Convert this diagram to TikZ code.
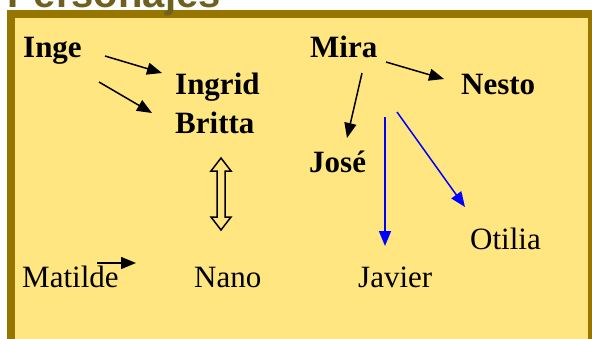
\documentclass[tikz,border=0pt]{standalone}
\usepackage{fontspec}
\setmainfont{Liberation Serif}
\newfontfamily\titlefont{Liberation Sans}
\usetikzlibrary{arrows.meta}

\definecolor{panel}{RGB}{255,230,128}
\definecolor{rim}{RGB}{150,118,0}
\definecolor{titlecol}{RGB}{112,96,32}

\tikzset{
  person/.style={anchor=base west, inner sep=0pt, font=\fontsize{31}{37}\selectfont},
  lead/.style={person, font=\fontsize{31}{37}\selectfont\bfseries},
  arr/.style={line width=1.5pt, -{Triangle[length=15pt,width=12pt]}},
  barr/.style={arr, blue}
}

\begin{document}
\begin{tikzpicture}[x=1pt, y=-1pt]
        \useasboundingbox (0, 0) rectangle (592, 338);

        % frame and title
        \draw[line width=8pt, rim, fill=panel] (11, 14) rectangle (592, 380);
        \node[anchor=base west, inner sep=0pt, text=titlecol, font=\fontsize{40}{48}\titlefont\bfseries] (title) at (7, 7) {Personajes};

        % names
        \node[lead] (inge) at (23, 57) {Inge};
        \node[lead] (ingrid) at (175, 94) {Ingrid};
        \node[lead] (britta) at (175, 133) {Britta};
        \node[lead] (mira) at (310, 57) {Mira};
        \node[lead] (nesto) at (461, 94) {Nesto};
        \node[lead] (jose) at (309, 172) {José};
        \node[person] (matilde) at (22, 287) {Matilde};
        \node[person] (nano) at (194, 287) {Nano};
        \node[person] (javier) at (358, 287) {Javier};
        \node[person] (otilia) at (470, 249) {Otilia};

        % arrow ends
        \coordinate (i1) at (105, 56);  \coordinate (i2) at (162, 73);
        \coordinate (b1) at (99, 82);   \coordinate (b2) at (152, 113);
        \coordinate (n1) at (386, 62);  \coordinate (n2) at (444, 79);
        \coordinate (j1) at (362, 73);  \coordinate (j2) at (347, 138);
        \coordinate (v1) at (385, 117); \coordinate (v2) at (385, 246);
        \coordinate (o1) at (397, 112); \coordinate (o2) at (465, 207);
        \coordinate (m1) at (97, 263);  \coordinate (m2) at (136, 263);

        \draw[arr] (i1) -- (i2);
        \draw[arr] (b1) -- (b2);
        \draw[arr] (n1) -- (n2);
        \draw[arr] (j1) -- (j2);
        \draw[barr] (v1) -- (v2);
        \draw[barr] (o1) -- (o2);
        \draw[arr] (m1) -- (m2);

        % hollow double arrow
        \draw[line width=1.5pt, line join=miter] (221, 158) -- (231, 171) -- (225, 171) -- (225, 217) -- (231, 217)
          -- (221, 230) -- (211, 217) -- (217, 217) -- (217, 171) -- (211, 171) -- cycle;
      \end{tikzpicture}
\end{document}
